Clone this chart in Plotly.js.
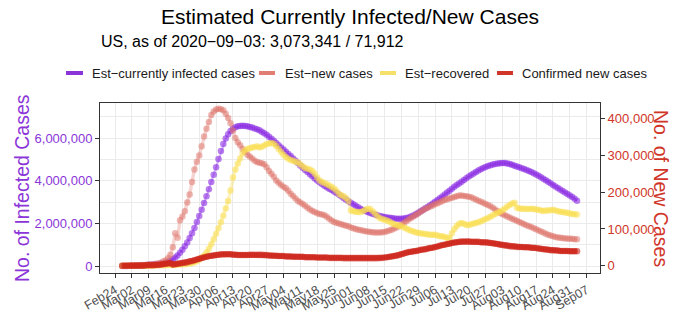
<!DOCTYPE html>
<html>
<head>
<meta charset="utf-8">
<script src="https://cdn.plot.ly/plotly-3.0.1.min.js"></script>
<style>html,body{margin:0;padding:0;background:#fff;}#chart{width:678px;height:317px;}</style>
</head>
<body>
<div id="chart"></div>
<script>
// ---- data (daily, starting 2020-02-27) ----
const startDay = [2020, 1, 27]; // Feb 27, 2020 (UTC)

// Est-currently infected cases, millions (left axis)
const estInfectedM = [
  0.02,0.02,0.02,0.03,0.03,0.03,0.04,0.04,0.05,0.05,0.06,
  0.07,0.08,0.09,0.10,0.11,0.12,0.14,0.17,0.21,0.26,
  0.33,0.41,0.51,0.64,0.78,0.94,1.12,1.33,1.55,1.80,
  2.07,2.35,2.65,2.96,3.28,3.61,3.95,4.29,4.64,5.02,
  5.40,5.72,5.98,6.18,6.33,6.44,6.51,6.55,6.57,6.58,
  6.57,6.55,6.52,6.49,6.45,6.41,6.36,6.30,6.23,6.15,
  6.06,5.97,5.87,5.77,5.66,5.56,5.46,5.36,5.26,5.16,
  5.05,4.94,4.83,4.72,4.61,4.51,4.41,4.31,4.21,4.11,
  4.02,3.93,3.85,3.77,3.70,3.63,3.57,3.50,3.43,3.36,
  3.28,3.20,3.12,3.04,2.97,2.90,2.84,2.77,2.70,2.64,
  2.59,2.54,2.50,2.46,2.42,2.39,2.36,2.33,2.31,2.29,
  2.27,2.26,2.24,2.23,2.23,2.23,2.24,2.26,2.29,2.33,
  2.38,2.44,2.51,2.58,2.65,2.72,2.79,2.86,2.94,3.02,
  3.10,3.18,3.27,3.36,3.45,3.54,3.63,3.72,3.80,3.88,
  3.96,4.04,4.12,4.20,4.27,4.34,4.41,4.48,4.54,4.60,
  4.65,4.69,4.73,4.76,4.79,4.81,4.82,4.83,4.83,4.81,
  4.79,4.75,4.71,4.67,4.63,4.59,4.55,4.51,4.46,4.41,
  4.36,4.30,4.24,4.17,4.10,4.03,3.96,3.89,3.81,3.73,
  3.66,3.59,3.52,3.45,3.38,3.31,3.24,3.16,3.073341
];

// Est-new cases, thousands (right axis)
const estNewK = [
  0,0,0,0,1,1,1,1,2,2,2,
  3,3,4,5,6,8,11,14,20,30,
  50,88,76,124,134,148,172,194,228,262,
  283,300,325,352,373,391,410,420,425,427,
  426,423,414,402,388,368,348,336,328,318,
  310,302,297,292,286,282,280,279,276,268,
  258,250,242,232,226,220,215,211,204,196,
  190,183,176,172,168,163,158,153,149,146,
  143,141,139,137,133,128,123,119,117,115,
  113,111,109,107,104,102,100,98,97,95,
  94,93,92,91,90,90,90,91,92,94,
  96,98,101,104,108,112,116,121,126,130,
  134,138,142,147,151,155,158,161,164,167,
  170,173,176,179,181,183,185,187,189,191,
  191,190,189,188,186,183,180,177,174,171,
  168,165,162,158,153,148,144,140,137,134,
  131,128,125,122,119,116,113,110,107,105,
  102,99,96,93,90,87,84,82,80,78,
  77,76,75,74,74,73,73,72,71.912
];

// Est-recovered, thousands (right axis)
const estRecoveredK = [
  0,0,0,0,0,0,0,0,0,0,0,
  0,0,0,1,1,1,1,1,2,2,
  2,2,3,3,4,4,5,6,7,9,
  12,16,22,28,36,46,58,72,87,102,
  118,136,156,176,205,240,262,278,292,306,
  314,318,320,322,323,325,322,324,327,331,
  333,334,332,326,318,310,302,296,291,288,
  286,283,281,276,271,266,264,262,258,250,
  240,232,228,225,222,218,214,210,204,196,
  192,189,184,176,150,148,147,146,146,148,
  152,155,154,148,142,135,130,127,125,123,
  120,116,113,111,109,107,104,101,98,95,
  93,91,89,88,87,86,85,84,84,84,
  82,80,80,78,76,75,88,100,108,114,
  116,114,111,111,113,115,116,118,121,124,
  127,130,133,137,141,144,147,151,156,161,
  165,169,171,158,156,155,155,154,154,155,
  154,153,152,150,149,150,150,151,152,150,
  148,147,146,145,144,142,141,140,139
];

// Confirmed new cases, thousands (right axis)
const confirmedNewK = [
  0,0,0,0,0,0,0,0,0,0,1,
  1,1,1,2,2,3,4,5,6,7,
  3,4,5,6,7,8,9,11,13,15,
  17,19,21,23,24,26,27,28,29,30,
  31,31,31,31,31,30,30,29,29,29,
  29,29,30,30,30,30,30,30,29,29,
  28,28,27,27,26,26,26,25,25,25,
  24,24,24,24,24,23,23,23,23,23,
  22,22,22,22,22,21,21,21,21,21,
  21,20,20,20,20,20,20,20,20,20,
  20,20,20,20,20,20,21,21,22,23,
  24,25,26,27,29,31,33,35,37,38,
  39,40,41,43,44,45,47,48,49,51,
  52,54,56,57,59,60,62,63,64,65,
  66,66,66,66,65,65,65,65,64,64,
  64,63,62,61,60,59,57,56,55,54,
  53,52,52,51,51,51,50,50,50,49,
  49,48,47,46,45,44,43,42,42,41,
  41,40,40,40,40,39,39,39,39
];

const seriesNames = ["Est\u2212currently infected cases", "Est\u2212new cases", "Est\u2212recovered", "Confirmed new cases"];
const titleText = "Estimated Currently Infected/New Cases";
const subtitleText = "US, as of 2020\u221209\u221203: 3,073,341 / 71,912";
const leftTitle = "No. of Infected Cases";
const rightTitle = "No. of New Cases";

// ---- build ----
const dates = estInfectedM.map((_, i) =>
  new Date(Date.UTC(startDay[0], startDay[1], startDay[2] + i)).toISOString().slice(0, 10));

const PURPLE = '#8B35D9', PINK = '#E07E74', YELLOW = '#F5E16A', RED = '#D03528';

const traces = [
  {x: dates, y: estInfectedM.map(v => v * 1e6), yaxis: 'y', type: 'scatter', mode: 'lines+markers',
   line: {color: 'rgba(138,43,226,0.35)', width: 2},
   marker: {color: 'rgba(138,43,226,0.6)', size: 6.5, line: {width: 0}}, showlegend: false, hoverinfo: 'skip'},
  {x: dates, y: estNewK.map(v => v * 1e3), yaxis: 'y2', type: 'scatter', mode: 'lines+markers',
   line: {color: 'rgba(222,115,105,0.3)', width: 3.5},
   marker: {color: 'rgba(222,115,105,0.5)', size: 6.5, line: {width: 0}}, showlegend: false, hoverinfo: 'skip'},
  {x: dates, y: estRecoveredK.map(v => v * 1e3), yaxis: 'y2', type: 'scatter', mode: 'lines+markers',
   line: {color: 'rgba(250,222,80,0.35)', width: 3.5},
   marker: {color: 'rgba(250,222,80,0.55)', size: 6.5, line: {width: 0}}, showlegend: false, hoverinfo: 'skip'},
  {x: dates, y: confirmedNewK.map(v => v * 1e3), yaxis: 'y2', type: 'scatter', mode: 'lines+markers',
   line: {color: 'rgba(205,35,25,0.6)', width: 5.5},
   marker: {color: 'rgba(205,35,25,0.6)', size: 6.5, line: {width: 0}}, showlegend: false, hoverinfo: 'skip'}
];

// plot area: x 100..600, y 103..273
const L = 100, T = 103, W = 500, H = 170;
const px = v => (v - L) / W;
const py = v => (T + H - v) / H;

const legendY = py(73);
const swatches = [[66, 83], [259, 275], [380, 396], [497, 513]];
const textStarts = [89.5, 283, 403, 520];
const legendColors = [PURPLE, PINK, YELLOW, RED];

const shapes = swatches.map((s, i) => ({
  type: 'line', xref: 'paper', yref: 'paper', x0: px(s[0]), x1: px(s[1]), y0: legendY, y1: legendY,
  line: {color: legendColors[i], width: 4}
}));

const font = 'Liberation Sans, Arial, sans-serif';
const annotations = seriesNames.map((n, i) => ({
  text: n, xref: 'paper', yref: 'paper', x: px(textStarts[i]), y: legendY, xanchor: 'left', yanchor: 'middle',
  showarrow: false, font: {size: 13, color: '#1a1a1a', family: font}
}));
annotations.push({text: subtitleText, xref: 'paper', yref: 'paper', x: px(99), y: py(42), xanchor: 'left',
  yanchor: 'middle', showarrow: false, font: {size: 16, color: '#000', family: font}});
annotations.push({text: leftTitle, xref: 'paper', yref: 'paper', x: px(22), y: 0.5, xanchor: 'center',
  yanchor: 'middle', textangle: -90, showarrow: false, font: {size: 19.5, color: PURPLE, family: font}});
annotations.push({text: rightTitle, xref: 'paper', yref: 'paper', x: px(661), y: 0.5, xanchor: 'center',
  yanchor: 'middle', textangle: 90, showarrow: false, font: {size: 19.5, color: RED, family: font}});

const layout = {
  width: 678, height: 317,
  margin: {l: L, r: 678 - L - W, t: T, b: 317 - T - H},
  paper_bgcolor: '#fff', plot_bgcolor: '#fff',
  font: {family: font},
  title: {text: titleText, x: 0.5, xref: 'paper', xanchor: 'center', y: 1 - 16.5 / 317, yref: 'container',
    yanchor: 'middle', font: {size: 21, color: '#000', family: font}},
  showlegend: false,
  xaxis: {type: 'date', range: ['2020-02-17 18:00', '2020-09-12 13:00'],
    tick0: '2020-02-24', dtick: 7 * 24 * 3600 * 1000, tickformat: '%b%d', tickangle: -30,
    tickfont: {size: 12.5, color: '#4d4d4d', family: font},
    ticks: 'outside', ticklen: 4, tickcolor: '#333', showline: true, linecolor: '#333', linewidth: 1,
    mirror: true, showgrid: true, gridcolor: '#ebebeb', gridwidth: 1, zeroline: false},
  yaxis: {range: [-0.31e6, 7.64e6], tick0: 0, dtick: 2e6, tickformat: ',d',
    tickfont: {size: 13, color: PURPLE, family: font},
    ticks: 'outside', ticklen: 4, tickcolor: '#333', showline: true, linecolor: '#333', linewidth: 1,
    showgrid: true, gridcolor: '#ebebeb', gridwidth: 1, zeroline: false,
    minor: {dtick: 1e6, tick0: 0, showgrid: true, gridcolor: '#ebebeb', gridwidth: 1, ticks: ''}},
  yaxis2: {overlaying: 'y', side: 'right', range: [-20000, 443000], tick0: 0, dtick: 100000, tickformat: ',d',
    tickfont: {size: 13, color: RED, family: font},
    ticks: 'outside', ticklen: 4, tickcolor: '#333', showline: true, linecolor: '#333', linewidth: 1,
    showgrid: false, zeroline: false},
  shapes: shapes,
  annotations: annotations
};

Plotly.newPlot('chart', traces, layout, {staticPlot: true, displayModeBar: false});
</script>
</body>
</html>
